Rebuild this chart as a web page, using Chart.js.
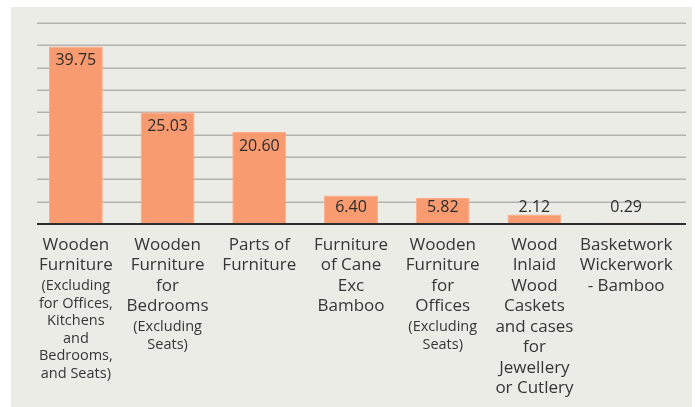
<!DOCTYPE html>
<html>
<head>
<meta charset="utf-8">
<script src="https://cdn.jsdelivr.net/npm/chart.js@4"></script>
<style>
  html,body{margin:0;padding:0;background:#ffffff;}
  #panel{position:absolute;left:11px;top:7px;width:681px;height:400px;background:#ecece7;}
  canvas{display:block;}
</style>
</head>
<body>
<div id="panel"><canvas id="c" width="681" height="400"></canvas></div>
<script>
// ---- data ----
const values = [39.75, 25.03, 20.60, 6.40, 5.82, 2.12, 0.29];
const categoryMain = [
  ["Wooden", "Furniture"],
  ["Wooden", "Furniture", "for", "Bedrooms"],
  ["Parts of", "Furniture"],
  ["Furniture", "of Cane", "Exc", "Bamboo"],
  ["Wooden", "Furniture", "for", "Offices"],
  ["Wood", "Inlaid", "Wood", "Caskets", "and cases", "for", "Jewellery", "or Cutlery"],
  ["Basketwork", "Wickerwork", "- Bamboo"]
];
const categoryNote = [
  ["(Excluding", "for Offices,", "Kitchens", "and", "Bedrooms,", "and Seats)"],
  ["(Excluding", "Seats)"],
  [],
  [],
  ["(Excluding", "Seats)"],
  [],
  []
];
const categories = categoryMain.map(l => l.join(" "));
const yTicks = [0, 5, 10, 15, 20, 25, 30, 35, 40, 45];

const FONT = "'Open Sans', 'Noto Sans', sans-serif";

const gridPlugin = {
  id: 'grid',
  beforeDatasetsDraw(chart) {
    const ctx = chart.ctx, y = chart.scales.y, a = chart.chartArea;
    ctx.save();
    ctx.strokeStyle = '#b3b3b0';
    ctx.lineWidth = 1.6;
    yTicks.forEach(v => {
      if (v === 0) return;
      const py = Math.round(y.getPixelForValue(v)) + 0.2;
      ctx.beginPath();
      ctx.moveTo(a.left + 7, py);
      ctx.lineTo(a.right + 14, py);
      ctx.stroke();
    });
    ctx.restore();
  },
  afterDatasetsDraw(chart) {
    const ctx = chart.ctx, y = chart.scales.y, x = chart.scales.x, a = chart.chartArea;
    const base = y.getPixelForValue(0);
    ctx.save();
    // baseline
    ctx.strokeStyle = '#2e2e2e';
    ctx.lineWidth = 2;
    ctx.beginPath();
    ctx.moveTo(a.left + 7, base);
    ctx.lineTo(a.right + 14, base);
    ctx.stroke();
    // value labels
    const meta = chart.getDatasetMeta(0);
    ctx.fillStyle = '#2b2b2b';
    ctx.font = "16px " + FONT;
    ctx.textAlign = 'center';
    ctx.textBaseline = 'middle';
    meta.data.forEach((bar, i) => {
      const ly = Math.min(bar.y + 14, base - 17);
      ctx.fillText(values[i].toFixed(2), bar.x, ly);
    });
    // category labels
    ctx.fillStyle = '#363636';
    categories.forEach((c, i) => {
      const cx = x.getPixelForValue(i);
      let ly = base + 21;
      ctx.font = "17px " + FONT;
      categoryMain[i].forEach(t => { ctx.fillText(t, cx, ly); ly += 20.5; });
      ctx.font = "14.5px " + FONT;
      categoryNote[i].forEach(t => { ctx.fillText(t, cx, ly); ly += 17.5; });
    });
    ctx.restore();
  }
};

new Chart(document.getElementById('c'), {
  type: 'bar',
  data: {
    labels: categories,
    datasets: [{
      data: values,
      backgroundColor: '#f89b70',
      borderColor: '#fba986',
      borderWidth: 1,
      barPercentage: 0.588,
      categoryPercentage: 1.0
    }]
  },
  options: {
    responsive: false,
    animation: false,
    devicePixelRatio: 1,
    layout: { padding: { left: 19, right: 20, top: 16, bottom: 183 } },
    plugins: { legend: { display: false }, tooltip: { enabled: false } },
    scales: {
      x: {
        display: false
      },
      y: {
        display: false,
        min: 0, max: 45,
        ticks: { stepSize: 5 }
      }
    }
  },
  plugins: [gridPlugin]
});
</script>
</body>
</html>
